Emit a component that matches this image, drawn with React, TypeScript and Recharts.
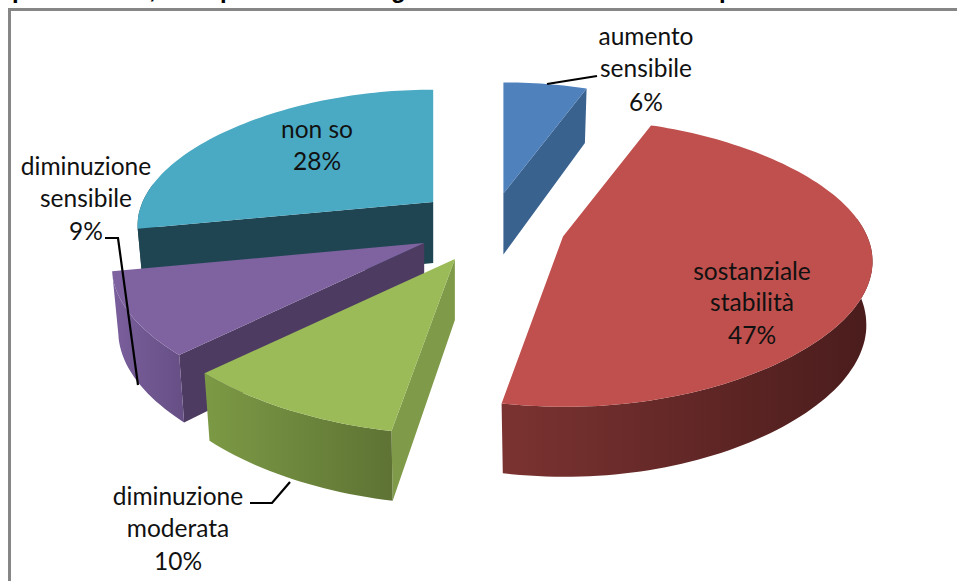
import { Pie, PieChart } from "recharts";

// drawn in painter's order (back slices first), so the list runs counter-clockwise from 12 o'clock
const categories = ["non so", "diminuzione sensibile", "diminuzione moderata", "sostanziale stabilità", "aumento sensibile"];
const shares = [28, 9, 10, 47, 6];
const pieData = categories.map((name, i) => ({ name, value: shares[i] }));

// only the descenders of the cut-off title are legible in the picture
const titleGlyphs = ["p", ",", "p", "g", "p"];
const titleGlyphX = [12, 149, 220, 391, 719];

const explode = [75, 75, 75, 75, 66];
const topColors = ["#4aa9c3", "#7f63a0", "#9bbb59", "#bf504d", "#4f81bd"];
const faceColors = ["#1f4552", "#4d3b62", "#7f9a48", "#4a1c1c", "#3a628f"];
const endFaceColors = ["#3f8fa8", "#4d3b62", "#7f9a48", "#4a1c1c", "#3a628f"];
const wallFrom = ["#1f4552", "#7a5f9c", "#7c9a45", "#7b3331", "#3a628f"];
const wallTo = ["#1f4552", "#664f85", "#5e7334", "#4a1c1c", "#3a628f"];

const labelLines = [
  { x: 317, ys: [138, 170], text: ["non so", "28%"] },
  { x: 86, ys: [175, 207, 240], text: ["diminuzione", "sensibile", "9%"] },
  { x: 178, ys: [505, 537, 570], text: ["diminuzione", "moderata", "10%"] },
  { x: 752, ys: [280, 311, 344], text: ["sostanziale", "stabilità", "47%"] },
  { x: 646, ys: [45, 77, 111], text: ["aumento", "sensibile", "6%"] },
];
const leaders = [
  "",
  "105,238 118,238 138,385",
  "250,503 272,503 290,482",
  "",
  "547,84 597,76",
];

const rad = (deg: number) => (deg * Math.PI) / 180;

// fake 3D: the far side of the disc is narrower and flatter than the near side,
// and a slice pushed towards the viewer comes out a little bigger
const rim = (deg: number, r: number, depth: number) => {
  const sin = Math.sin(rad(deg));
  const cos = Math.cos(rad(deg));
  const slice = 1 / (1 + 0.2 * depth);
  const persp = 1 / (1 + 0.2 * sin + 0.1 * sin * sin);
  const skew = sin < 0 ? 2 * sin * sin : 0;
  return {
    dx: r * cos * persp * slice + skew,
    dy: -((r * 142) / 300 - (r * 26 * sin) / 300) * sin * slice,
    h: 62 - 8 * sin,
  };
};

const Slice3D = (props: any) => {
  const { cx, cy, startAngle, endAngle, outerRadius, name } = props;
  const idx = categories.indexOf(name);
  const mid = (startAngle + endAngle) / 2;
  const ox = cx + explode[idx] * Math.cos(rad(mid));
  const oy = cy - 0.5 * explode[idx] * Math.sin(rad(mid));
  const depth = (explode[idx] * Math.sin(rad(mid))) / outerRadius;

  const angles: number[] = [];
  for (let a = startAngle; a < endAngle; a += 1.5) angles.push(a);
  angles.push(endAngle);

  const top = (a: number) => {
    const p = rim(a, outerRadius, depth);
    return [ox + p.dx, oy + p.dy];
  };
  const bottom = (a: number) => {
    const p = rim(a, outerRadius, depth);
    return [ox + p.dx * 0.98, oy + p.dy + p.h];
  };
  const toPath = (pts: number[][]) =>
    "M" + pts.map((p) => `${p[0].toFixed(1)},${p[1].toFixed(1)}`).join("L") + "Z";

  const apexTop = [ox, oy];
  const apexBottom = [ox, oy + 61];
  const gradId = `wall-${idx}`;

  const wallAngles = angles.filter((a) => Math.sin(rad(a)) < 0.15);

  return (
    <g>
      <defs>
        <linearGradient id={gradId} x1="0" y1="0" x2="1" y2="0">
          <stop offset="0%" stopColor={wallFrom[idx]} />
          <stop offset="100%" stopColor={wallTo[idx]} />
        </linearGradient>
      </defs>
      {Math.cos(rad(startAngle)) > -1e-6 && (
        <path d={toPath([apexTop, top(startAngle), bottom(startAngle), apexBottom])} fill={endFaceColors[idx]} />
      )}
      {Math.cos(rad(endAngle)) < 1e-6 && (
        <path d={toPath([apexTop, top(endAngle), bottom(endAngle), apexBottom])} fill={faceColors[idx]} />
      )}
      {wallAngles.length > 1 && (
        <path
          d={toPath([...wallAngles.map(top), ...wallAngles.slice().reverse().map(bottom)])}
          fill={`url(#${gradId})`}
        />
      )}
      <path d={toPath([apexTop, ...angles.map(top)])} fill={topColors[idx]} />
    </g>
  );
};

const renderLabel = (props: any) => {
  const idx = categories.indexOf(props.name);
  const item = labelLines[idx];
  return (
    <g key={props.name}>
      {leaders[idx] && <polyline points={leaders[idx]} fill="none" stroke="#000" strokeWidth={2.2} />}
      {item.text.map((line, i) => (
        <text key={line} x={item.x} y={item.ys[i]} textAnchor="middle" fontFamily="Lato" fontSize={24.5} fill="#111">
          {line}
        </text>
      ))}
    </g>
  );
};

export default function App() {
  return (
    <div style={{ position: "absolute", left: 0, top: 0, width: 957, height: 581, overflow: "hidden", background: "#fff" }}>
      <PieChart width={957} height={581} margin={{ top: 0, right: 0, bottom: 0, left: 0 }}>
        {/* frame runs off the right and bottom of the picture */}
        <rect x={9.5} y={9.5} width={960} height={600} fill="none" stroke="#868686" strokeWidth={3} />
        {titleGlyphs.map((g, i) => (
          <text key={i} x={titleGlyphX[i]} y={-2} fontFamily="Liberation Sans" fontWeight="bold" fontSize={24} fill="#000">
            {g}
          </text>
        ))}
        <Pie
          data={pieData}
          dataKey="value"
          nameKey="name"
          cx={491}
          cy={226}
          outerRadius={300}
          startAngle={90}
          endAngle={450}
          stroke="none"
          isAnimationActive={false}
          shape={Slice3D}
          label={renderLabel}
          labelLine={false}
        />
      </PieChart>
    </div>
  );
}
